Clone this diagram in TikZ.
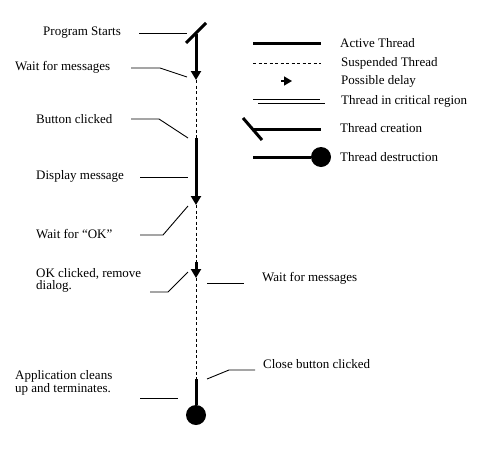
\documentclass[tikz,border=0pt]{standalone}
\usepackage{fontspec}
\setmainfont{Liberation Serif}
\usetikzlibrary{arrows.meta}

\begin{document}
\begin{tikzpicture}[x=1pt,y=-1pt,>={Triangle[length=9pt,width=10pt]},
	active/.style={line width=3pt},
	susp/.style={line width=0.9pt,dash pattern=on 3pt off 2.5pt},
	lead/.style={line width=0.9pt},
	lbl/.style={anchor=west,inner sep=0pt,align=left,font=\fontsize{13}{11}\selectfont},
	blob/.style={circle,fill,minimum size=20pt,inner sep=0pt}]

\useasboundingbox (0,0) rectangle (500,453);

% Punkte auf dem Thread
\coordinate (start) at (196,34);
\coordinate (w1) at (196,80);
\coordinate (b1) at (196,138);
\coordinate (w2) at (196,205);
\coordinate (b2) at (196,262);
\coordinate (w3) at (196,278);
\coordinate (b3) at (196,379);
\node[blob] (ende) at (196,415) {};
\coordinate (c1) at (186,43);
\coordinate (c2) at (206,23);

% Thread
\draw[active] (c1)--(c2);
\draw[active,->] (start)--(w1);
\draw[susp] (w1)--(b1);
\draw[active,->] (b1)--(w2);
\draw[susp] (w2)--(b2);
\draw[active,->] (b2)--(w3);
\draw[susp] (w3)--(b3);
\draw[active] (b3)--(ende);

% Beschriftungen links
\node[lbl] (ps) at (43,33) {Program Starts};
\node[lbl] (wm) at (15,67) {Wait for messages};
\node[lbl] (bc) at (36,119) {Button clicked};
\node[lbl] (dm) at (36,176) {Display message};
\node[lbl] (wok) at (36,234) {Wait for “OK”};
\node[lbl] (okc) at (36,280) {OK clicked, remove\\dialog.};
\node[lbl] (app) at (15,383) {Application cleans\\up and terminates.};

% Beschriftungen rechts
\node[lbl] (wm2) at (262,278) {Wait for messages};
\node[lbl] (cbc) at (263,364) {Close button clicked};

% Hinweislinien
\coordinate (ps0) at (139,33);
\coordinate (ps1) at (187,33);
\draw[lead] (ps0)--(ps1);
\coordinate (wm0) at (131,68);
\coordinate (wm1) at (160,68);
\coordinate (wm2e) at (187,77);
\draw[lead] (wm0)--(wm1)--(wm2e);
\coordinate (bc0) at (131,119);
\coordinate (bc1) at (159,119);
\coordinate (bc2) at (188,138);
\draw[lead] (bc0)--(bc1)--(bc2);
\coordinate (dm0) at (140,177);
\coordinate (dm1) at (188,177);
\draw[lead] (dm0)--(dm1);
\coordinate (wok0) at (140,235);
\coordinate (wok1) at (163,235);
\coordinate (wok2) at (188,206);
\draw[lead] (wok0)--(wok1)--(wok2);
\coordinate (okc0) at (150,292);
\coordinate (okc1) at (168,292);
\coordinate (okc2) at (188,272);
\draw[lead] (okc0)--(okc1)--(okc2);
\coordinate (wmr0) at (207,283);
\coordinate (wmr1) at (244,283);
\draw[lead] (wmr0)--(wmr1);
\coordinate (cbc0) at (207,379);
\coordinate (cbc1) at (229,370);
\coordinate (cbc2) at (255,370);
\draw[lead] (cbc0)--(cbc1)--(cbc2);
\coordinate (app0) at (140,398);
\coordinate (app1) at (178,398);
\draw[lead] (app0)--(app1);

% Legende
\coordinate (la0) at (253,43);  \coordinate (la1) at (321,43);
\draw[active] (la0)--(la1);
\node[lbl] (la) at (340,43) {Active Thread};

\coordinate (ls0) at (253,63);  \coordinate (ls1) at (321,63);
\draw[susp] (ls0)--(ls1);
\node[lbl] (ls) at (341,63) {Suspended Thread};

\coordinate (ld0) at (281,81);  \coordinate (ld1) at (292,81);
\draw[line width=1.5pt,->,>={Triangle[length=8pt,width=9pt]}] (ld0)--(ld1);
\node[lbl] (ld) at (341,81) {Possible delay};

\coordinate (lk0) at (253,99);  \coordinate (lk1) at (320,99);
\coordinate (lk2) at (258,103); \coordinate (lk3) at (325,103);
\draw[line width=0.9pt] (lk0)--(lk1) (lk2)--(lk3);
\node[lbl] (lk) at (341,101) {Thread in critical region};

\coordinate (lc0) at (243,118); \coordinate (lc1) at (262,140);
\coordinate (lc2) at (253,129); \coordinate (lc3) at (321,129);
\draw[active] (lc0)--(lc1);
\draw[active] (lc2)--(lc3);
\node[lbl] (lc) at (340,128) {Thread creation};

\node[blob] (lt1) at (321,157) {};
\coordinate (lt0) at (253,157);
\draw[active] (lt0)--(lt1);
\node[lbl] (lt) at (340,157) {Thread destruction};

\end{tikzpicture}
\end{document}
